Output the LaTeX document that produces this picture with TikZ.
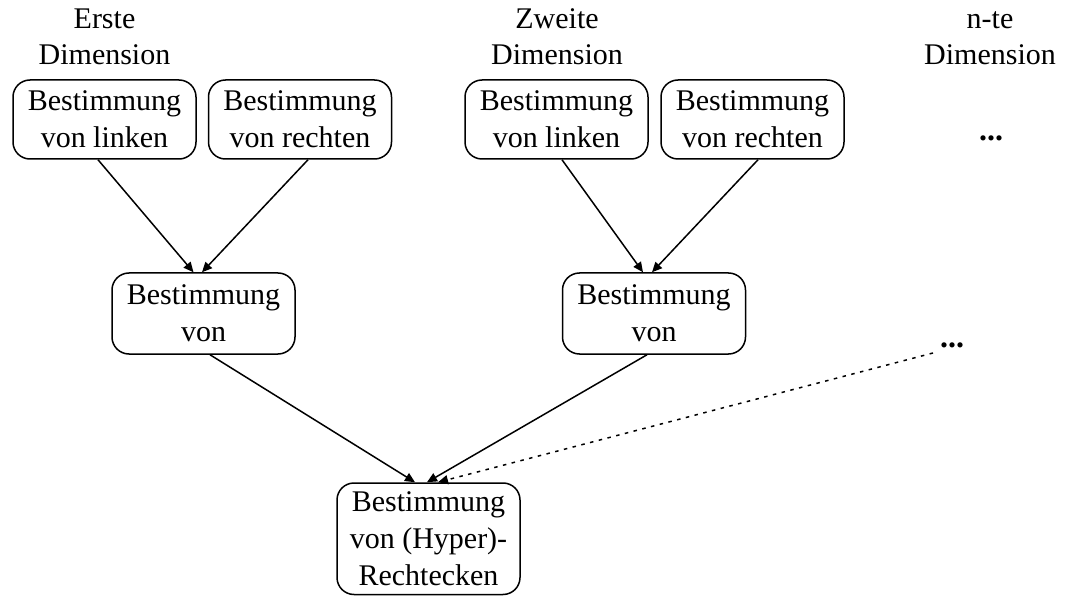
\documentclass[tikz,border=0pt]{standalone}
\usepackage{fontspec}
\setmainfont{Liberation Serif}
\usetikzlibrary{arrows.meta}
\begin{document}
\begin{tikzpicture}[x=1pt,y=-1pt,
  every node/.style={font=\fontsize{30}{37}\selectfont},
  box/.style={draw, line width=1.5pt, rounded corners=17pt, inner sep=0pt,
    minimum width=183pt, minimum height=79pt, align=center},
  caption/.style={inner sep=0pt, align=center, font=\fontsize{30}{36}\selectfont},
  dots/.style={inner sep=0pt, font=\fontsize{32}{36}\selectfont\bfseries},
  link/.style={line width=1.5pt, -{Triangle[length=10pt,width=9pt]}},
  hint/.style={link, dash pattern=on 3.5pt off 5.5pt}]
\useasboundingbox (0,0) rectangle (1069,596);

% column captions
\node[caption] (c1) at (104.5,37) {Erste\\Dimension};
\node[caption] (c2) at (557,37) {Zweite\\Dimension};
\node[caption] (c3) at (990,38.3) {n-te\\Dimension};

% first dimension
\node[box] (a1) at (104.5,119.5) {Bestimmung\\von linken};
\node[box] (a2) at (300,119.5) {Bestimmung\\von rechten};
\node[box, minimum height=81pt] (m1) at (203.5,313.5) {Bestimmung\\von};

% second dimension
\node[box] (b1) at (556.5,119.5) {Bestimmung\\von linken};
\node[box] (b2) at (752.5,119.5) {Bestimmung\\von rechten};
\node[box, minimum height=81pt] (m2) at (654,313.5) {Bestimmung\\von};

% n-th dimension
\node[dots, anchor=base] (d1) at (991,141) {...};
\node[dots, anchor=base] (d2) at (952,347) {...};
\coordinate (d2s) at (933,353);

% result
\node[box, minimum height=111.5pt] (r) at (428.5,538.75) {Bestimmung\\von (Hyper)-\\Rechtecken};

% connectors
\draw[link] ([xshift=-6.5pt]a1.south) -- ([xshift=-10pt]m1.north);
\draw[link] ([xshift=8pt]a2.south) -- ([xshift=-1.5pt]m1.north);
\draw[link] ([xshift=5.5pt]b1.south) -- ([xshift=-11pt]m2.north);
\draw[link] ([xshift=5.5pt]b2.south) -- ([xshift=-2pt]m2.north);
\draw[link] ([xshift=6.5pt]m1.south) -- ([xshift=-13.5pt]r.north);
\draw[link] ([xshift=-7pt]m2.south) -- ([xshift=-1.5pt]r.north);
\draw[hint] (d2s) -- ([xshift=9.5pt]r.north);
\end{tikzpicture}
\end{document}
